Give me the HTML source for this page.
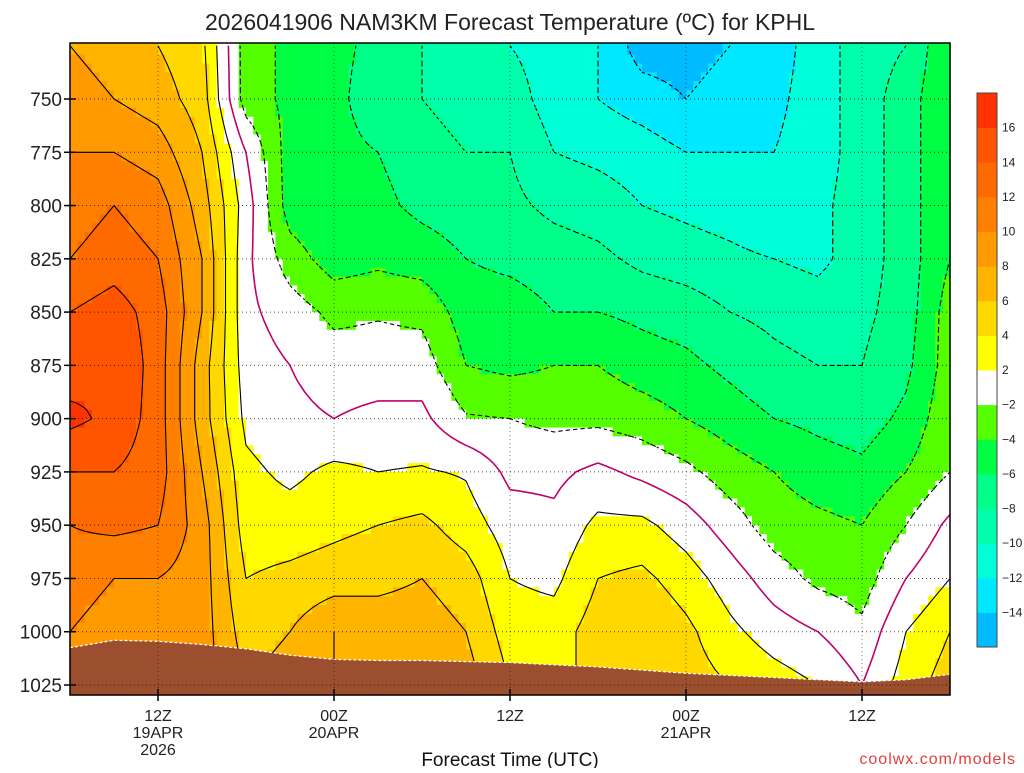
<!DOCTYPE html>
<html><head><meta charset="utf-8"><style>
body{margin:0;background:#fff;font-family:"Liberation Sans",sans-serif}
svg text{font-family:"Liberation Sans",sans-serif}
</style></head><body>
<svg id="chart" width="1024" height="768" viewBox="0 0 1024 768" xmlns="http://www.w3.org/2000/svg">
<text x="510" y="30" text-anchor="middle" font-size="23" fill="#222">2026041906 NAM3KM Forecast Temperature (ºC) for KPHL</text>
<g id="field"></g>
<g id="contours"></g>
<g id="terrain"></g>
<g id="grid"></g>
<rect x="70" y="43" width="880" height="652" fill="none" stroke="#000" stroke-width="1.5"/>
<g id="yaxis"></g>
<g id="xaxis"></g>
<text x="510" y="766" text-anchor="middle" font-size="19" fill="#111">Forecast Time (UTC)</text>
<text x="1016" y="764" text-anchor="end" font-size="16" fill="#e04040" letter-spacing="1">coolwx.com/models</text>
<g id="cbar"></g>
</svg>
<script>
const hours=[0,3,6,9,12,15,18,21,24,27,30,33,36,39,42,45,48,51,54,57,60];
const levels=[725,750,775,800,825,850,875,900,925,950,975,1000,1025];
const temps=[
[8,9,10,11,12,14,15,16.5,14,12,11,10,10],
[7,8,10,12,13,15,16,15.5,14,12.5,10,9,9],
[6,7,9,11,12,13,13,13,13,12,10,9,9],
[4.5,5,6,7,8,8,7,7,8,9,9,9,9],
[-3,-3,0,1,0.5,0.5,1,1.5,2.5,3,4,5,6],
[-4.5,-4.5,-5,-5,-3,-1,0,0.5,1.5,3,4.5,6,7],
[-5.5,-5.5,-5.5,-6,-5,-2.5,-1,0,2.5,3.5,5,8,8],
[-6.5,-7,-6,-5.5,-4.5,-2.2,-1,0.5,2,4,5.5,7,7],
[-8,-8,-7,-6.5,-5,-2.5,-1,0.5,2.2,4.5,6,7,7],
[-9,-9,-8,-7,-6,-5,-4,-1.8,1.8,3,5,6,7],
[-10,-9,-8,-7.5,-6.5,-5,-4.5,-2,-0.5,1,2,3,4],
[-11,-11,-10,-8.5,-7,-6,-4,-2.5,-0.5,0.5,1.5,3,4],
[-12,-12,-10.5,-9,-7.5,-6,-4,-2.5,0.5,2.5,4,5,4],
[-15,-13,-11,-10,-8.5,-6.5,-5,-3,-0.5,2.5,4.5,6,5],
[-15,-14,-12,-10.5,-9,-7,-5.5,-4,-1.5,1,3,4.5,5],
[-14,-13,-12,-11,-9.5,-8,-6.5,-5,-3,-1,1,2.5,4],
[-13,-12.5,-12,-12,-10,-8.5,-7.5,-6,-4,-3,-1,1,3],
[-11,-11,-11,-10.5,-10.5,-9,-8,-6.5,-5,-3.5,-2.5,0,2],
[-9,-9,-9,-9,-9,-8.5,-8,-7,-5.5,-4,-3,-1.5,0],
[-8,-7,-7,-7,-7,-7,-6.5,-5.5,-4,-2,0,2,3],
[-4,-4,-4,-4,-4,-3,-3,-2.5,-2,0.5,2,4,5]];
const surface=[1007.5,1004,1004.5,1006,1008,1011,1013,1013.5,1013.5,1014,1014.5,1015.5,1016.5,1018,1019.5,1020.5,1021.5,1022.5,1023.5,1022.5,1020];
const yTicks=[750,775,800,825,850,875,900,925,950,975,1000,1025];
const xTickHours=[6,18,30,42,54];
const xTickLabels=[["12Z","19APR","2026"],["00Z","20APR"],["12Z"],["00Z","21APR"],["12Z"]];
const cbLevels=[-14,-12,-10,-8,-6,-4,-2,2,4,6,8,10,12,14,16];
const cbColors=["#00bbff","#00e8ff","#00ffd8","#00ffaa","#00ff88","#00ff44","#55ff00","#ffffff","#ffff00","#ffd800","#ffb400","#ff9a00","#ff8000","#ff6a00","#ff5500","#ff3300"];
const contourLevels=[-14,-12,-10,-8,-6,-4,-2,0,2,4,6,8,10,12,14,16];

const NS="http://www.w3.org/2000/svg";
const X0=70,X1=950,Y0=43,Y1=695;
const xS=h=>X0+(h-0)/60*(X1-X0);
const yS=p=>99+(p-750)*(586/275);
function mk(tag,attrs,parent){const e=document.createElementNS(NS,tag);for(const k in attrs)e.setAttribute(k,attrs[k]);parent.appendChild(e);return e;}
function col(v){let i=0;while(i<cbLevels.length&&v>=cbLevels[i])i++;return cbColors[i];}
function interp(i,j,u,v){return temps[i][j]*(1-u)*(1-v)+temps[i+1][j]*u*(1-v)+temps[i][j+1]*(1-u)*v+temps[i+1][j+1]*u*v;}
const field=document.getElementById('field');
const N=6;
for(let i=0;i<hours.length-1;i++){for(let j=0;j<levels.length-1;j++){
 for(let a=0;a<N;a++){for(let b=0;b<N;b++){
  const t=interp(i,j,(a+0.5)/N,(b+0.5)/N);
  const h0=hours[i]+(hours[i+1]-hours[i])*a/N,h1=hours[i]+(hours[i+1]-hours[i])*(a+1)/N;
  let p0=levels[j]+(levels[j+1]-levels[j])*b/N,p1=levels[j]+(levels[j+1]-levels[j])*(b+1)/N;
  let y0=Math.max(Y0,yS(p0)),y1=Math.min(Y1,yS(p1));
  if(j===0&&b===0)y0=Y0;
  if(j===levels.length-2&&b===N-1)y1=Y1;
  if(y1<=y0)continue;
  const r=mk('rect',{x:xS(h0).toFixed(1),y:y0.toFixed(1),width:(xS(h1)-xS(h0)+0.6).toFixed(1),height:(y1-y0+0.6).toFixed(1),fill:col(t)},field);
  
  
 }}
}}
// fine node grid for contours
const nx=(hours.length-1)*N+1,ny=(levels.length-1)*N+1;
const G=[],GX=[],GY=[];
for(let a=0;a<nx;a++){const i=Math.min(Math.floor(a/N),hours.length-2),u=(a-i*N)/N;
 GX.push(xS(hours[i]+(hours[i+1]-hours[i])*u));G.push([]);
 for(let b=0;b<ny;b++){const j=Math.min(Math.floor(b/N),levels.length-2),v=(b-j*N)/N;
  if(a===0)GY.push(yS(levels[j]+(levels[j+1]-levels[j])*v));
  G[a].push(interp(i,j,u,v));}}
const cg=document.getElementById('contours');
contourLevels.forEach(L=>{
 let d='';
 for(let a=0;a<nx-1;a++)for(let b=0;b<ny-1;b++){
  const c=[[a,b],[a+1,b],[a+1,b+1],[a,b+1]];
  const pts=[];
  for(let e=0;e<4;e++){const p=c[e],q=c[(e+1)%4];const v1=G[p[0]][p[1]],v2=G[q[0]][q[1]];
   if((v1<L)!==(v2<L)){const f=(L-v1)/(v2-v1);
    pts.push([GX[p[0]]+(GX[q[0]]-GX[p[0]])*f,GY[p[1]]+(GY[q[1]]-GY[p[1]])*f]);}}
  for(let k=0;k+1<pts.length;k+=2)d+='M'+pts[k][0].toFixed(1)+' '+Math.max(Y0,pts[k][1]).toFixed(1)+'L'+pts[k+1][0].toFixed(1)+' '+Math.max(Y0,pts[k+1][1]).toFixed(1);
 }
 if(!d)return;
 const attrs={d:d,fill:'none',stroke:L===0?'#c0006a':'#000','stroke-width':L===0?1.6:1.1};
 if(L<0)attrs['stroke-dasharray']='3,3';
 const pth=mk('path',attrs,cg);
 
 
});
// terrain
let pts=hours.map((h,i)=>xS(h).toFixed(1)+','+yS(surface[i]).toFixed(1));
const terr=document.getElementById('terrain');
const poly=mk('polygon',{points:X0+','+Y1+' '+pts.join(' ')+' '+X1+','+Y1,fill:'#9c4f2e'},terr);


const tl=mk('polyline',{points:pts.join(' '),fill:'none',stroke:'#fff','stroke-width':1.2,'stroke-dasharray':'3,2'},terr);


// grid & y axis
const grid=document.getElementById('grid'),ya=document.getElementById('yaxis');
yTicks.forEach(p=>{const y=yS(p);
 const g=mk('line',{x1:X0,x2:X1,y1:y,y2:y,stroke:'#000','stroke-width':1,'stroke-dasharray':'1,3','stroke-opacity':0.7},grid);
 
 const tk=mk('line',{x1:X0-6,x2:X0+6,y1:y,y2:y,stroke:'#000','stroke-width':1.5},ya);
 
 const t=mk('text',{x:62,y:y+7,'text-anchor':'end','font-size':19,fill:'#222'},ya);t.textContent=p;
 
});
const xa=document.getElementById('xaxis');
xTickHours.forEach((h,i)=>{const x=xS(h);
 const g=mk('line',{x1:x,x2:x,y1:Y0,y2:Y1,stroke:'#000','stroke-width':1,'stroke-dasharray':'1,3','stroke-opacity':0.5},grid);
 
 const tk=mk('line',{x1:x,x2:x,y1:Y1-6,y2:Y1+6,stroke:'#000','stroke-width':1.5},xa);
 
 xTickLabels[i].forEach((s,k)=>{const t=mk('text',{x:x,y:721+k*17,'text-anchor':'middle','font-size':16,fill:'#222'},xa);t.textContent=s;
  });
});
// colorbar
const cb=document.getElementById('cbar');const cbTop=93,cbH=554,bh=cbH/cbColors.length;
cbColors.forEach((c,i)=>{const r=mk('rect',{x:977,y:(cbTop+cbH-(i+1)*bh).toFixed(1),width:20,height:(bh+0.5).toFixed(1),fill:c},cb);
 });
mk('rect',{x:977,y:cbTop,width:20,height:cbH,fill:'none',stroke:'#444','stroke-width':1},cb);
cbLevels.forEach((v,i)=>{const y=cbTop+cbH-(i+1)*bh;
 const t=mk('text',{x:1002,y:y+4,'font-size':12,fill:'#222'},cb);t.textContent=v<0?'\u2212'+(-v):v;
 });
</script>
</body></html>
